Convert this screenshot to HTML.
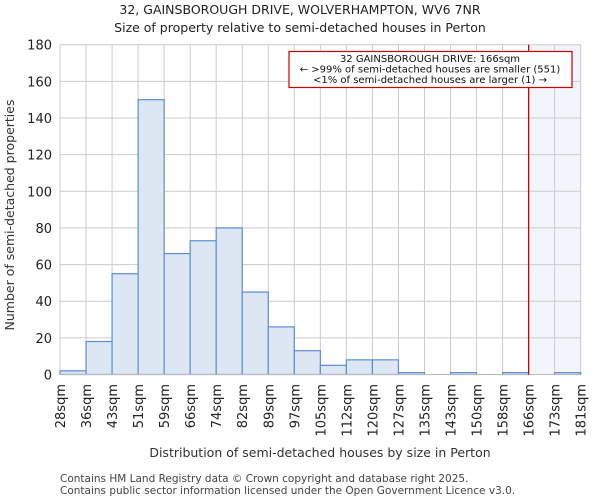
<!DOCTYPE html>
<html><head><meta charset="utf-8"><style>
body{margin:0;background:#fff;font-family:"DejaVu Sans","Liberation Sans",sans-serif;}
</style></head><body>
<svg width="600" height="500" xmlns="http://www.w3.org/2000/svg" font-family="DejaVu Sans, Liberation Sans, sans-serif">
<text x="300" y="14" text-anchor="middle" font-size="12.5" fill="#222">32, GAINSBOROUGH DRIVE, WOLVERHAMPTON, WV6 7NR</text>
<text x="300" y="32" text-anchor="middle" font-size="12.5" fill="#222">Size of property relative to semi-detached houses in Perton</text>
<g id="plot"></g>
<text transform="translate(14,215) rotate(-90)" text-anchor="middle" font-size="12.5" fill="#333">Number of semi-detached properties</text>
<text x="320" y="457" text-anchor="middle" font-size="12.5" fill="#333">Distribution of semi-detached houses by size in Perton</text>
<text x="60" y="482" font-size="10.5" fill="#444">Contains HM Land Registry data © Crown copyright and database right 2025.</text>
<text x="60" y="494" font-size="10.5" fill="#444">Contains public sector information licensed under the Open Government Licence v3.0.</text>
</svg>
<script>
const labels=["28sqm","36sqm","43sqm","51sqm","59sqm","66sqm","74sqm","82sqm","89sqm","97sqm","105sqm","112sqm","120sqm","127sqm","135sqm","143sqm","150sqm","158sqm","166sqm","173sqm","181sqm"];
const counts=[2,18,55,150,66,73,80,45,26,13,5,8,8,1,0,1,0,1,0,1];
const yTicks=[0,20,40,60,80,100,120,140,160,180];
const markerIndex=18;
const NS="http://www.w3.org/2000/svg";
const g=document.getElementById('plot');
const x0=60,x1=580.7,yTop=44.7,yBot=374.5,yMax=180;
const bw=(x1-x0)/counts.length;
const xs=i=>x0+i*bw;
const ys=v=>yBot-(v/yMax)*(yBot-yTop);
function mk(t,a){const e=document.createElementNS(NS,t);for(const k in a)e.setAttribute(k,a[k]);g.appendChild(e);return e;}
let e=mk('rect',{x:xs(markerIndex),y:yTop,width:x1-xs(markerIndex),height:yBot-yTop,fill:'#f2f5fc'});


yTicks.forEach(t=>{
 let l=mk('line',{x1:x0,x2:x1,y1:ys(t),y2:ys(t),stroke:'#ccc','stroke-width':1});
 
 
 let tx=mk('text',{x:x0-8,y:ys(t)+5,'text-anchor':'end','font-size':13,fill:'#222'});
 tx.textContent=t;
 
 
});
labels.forEach((lb,i)=>{
 let l=mk('line',{x1:xs(i),x2:xs(i),y1:yTop,y2:yBot,stroke:'#ccc','stroke-width':1});
 
 
 let tx=mk('text',{transform:`translate(${xs(i)+5},384) rotate(-90)`,'text-anchor':'end','font-size':13,fill:'#222'});
 tx.textContent=lb;
 
 
});
counts.forEach((c,i)=>{
 let r=mk('rect',{x:xs(i),y:ys(c),width:bw,height:yBot-ys(c),fill:'#dde6f3',stroke:'#5b8ed6','stroke-width':1.2});
 
 
});
let ax=mk('line',{x1:x0,x2:x1,y1:yBot,y2:yBot,stroke:'#bbb','stroke-width':1});


let ml=mk('line',{x1:xs(markerIndex),x2:xs(markerIndex),y1:yTop,y2:yBot,stroke:'#c00','stroke-width':1.3});


let box=mk('rect',{x:289,y:51.5,width:283,height:36,fill:'#fff',stroke:'#c00','stroke-width':1.2});


["32 GAINSBOROUGH DRIVE: 166sqm","← >99% of semi-detached houses are smaller (551)","<1% of semi-detached houses are larger (1) →"].forEach((s,i)=>{
 let t=mk('text',{x:430,y:62+i*10.5,'text-anchor':'middle','font-size':10,fill:'#111'});
 t.textContent=s;
 
 
});
</script>
</body></html>
